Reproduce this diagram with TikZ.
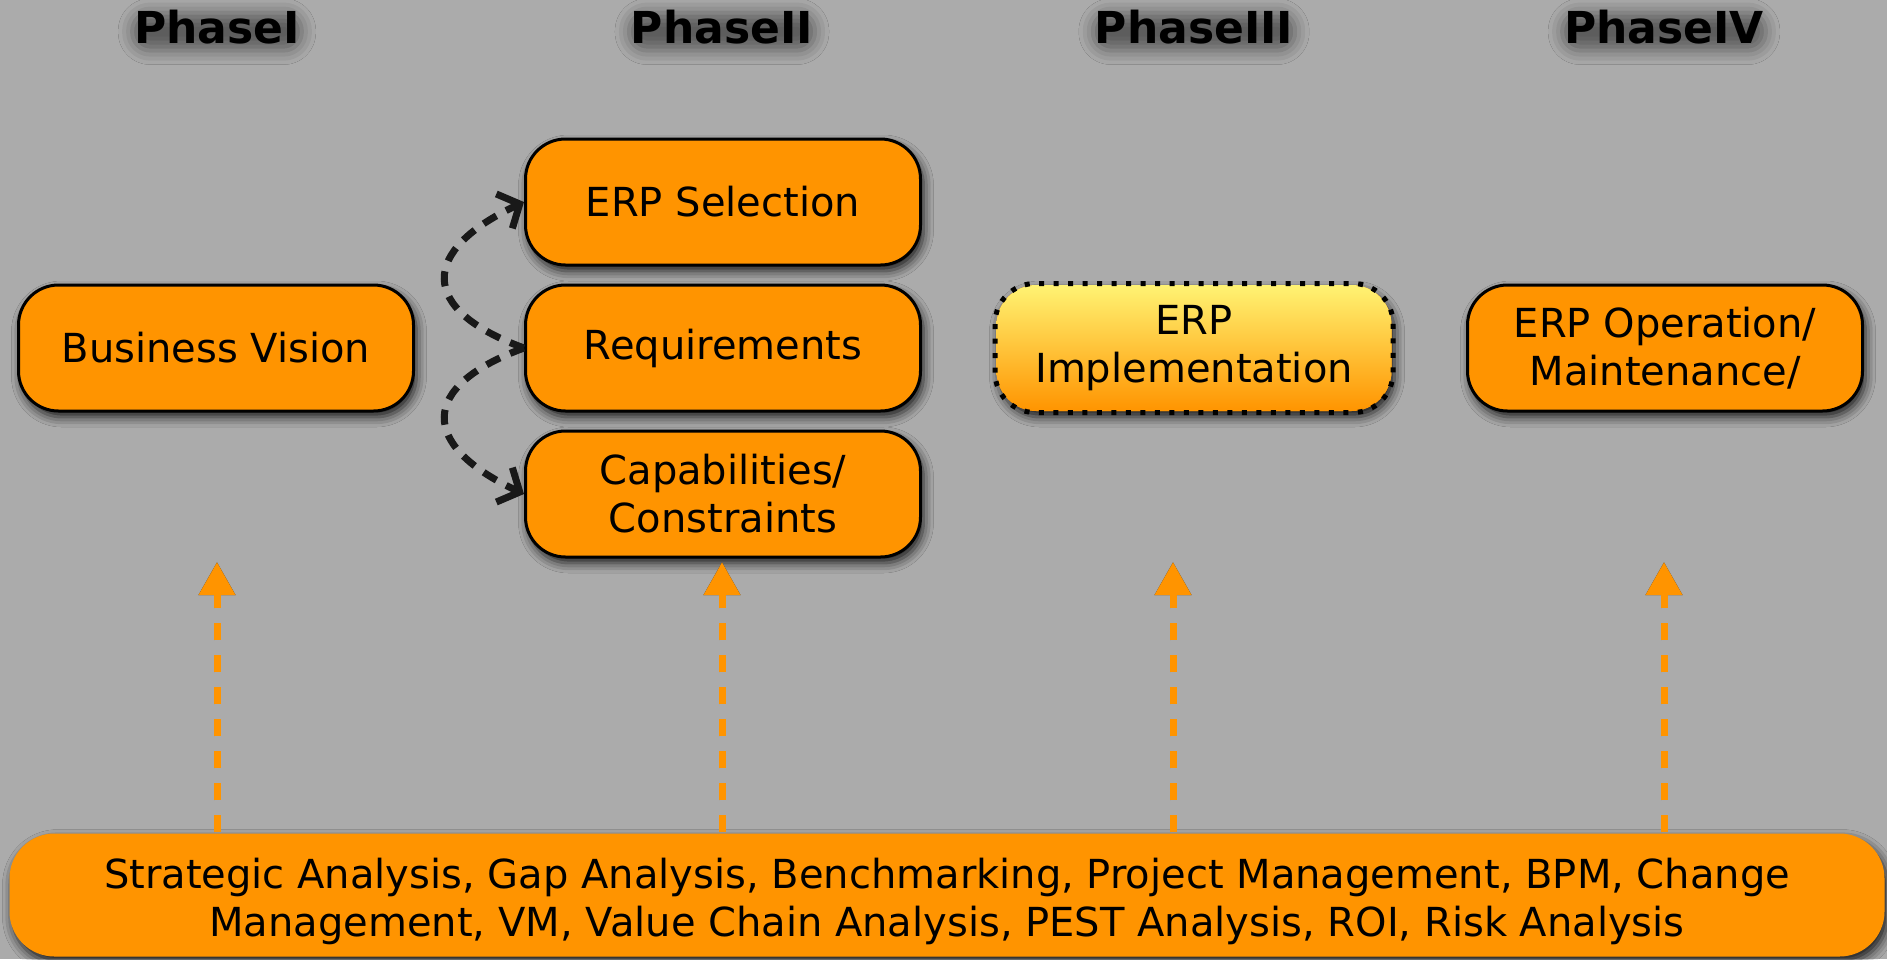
\documentclass[tikz,border=0pt]{standalone}
\usepackage{fontspec}
\setmainfont{DejaVu Sans}
\usepackage{tikz}
\usetikzlibrary{arrows.meta,shadows.blur,positioning}

\definecolor{phaseorange}{RGB}{255,148,0}
\definecolor{bggray}{RGB}{171,171,171}
\definecolor{implyellow}{RGB}{255,243,115}

\begin{document}
\begin{tikzpicture}[
    x=1pt, y=1pt,
    node distance = 17pt,
    phase/.style = {font=\fontsize{44}{50}\selectfont\bfseries, anchor=base,
                 rounded corners=18pt, inner sep=2pt,
                 blur shadow={shadow xshift=0pt, shadow yshift=-5pt,
                              shadow blur radius=14pt, shadow opacity=45}},
    box/.style = {rectangle, rounded corners=40pt, draw=black, line width=3pt,
                 fill=phaseorange, minimum width=395pt, minimum height=126pt,
                 align=center, font=\fontsize{40}{48}\selectfont,
                 blur shadow={shadow xshift=3pt, shadow yshift=-6pt,
                              shadow blur radius=10pt, shadow opacity=85}},
    loop arr/.style = {-{Straight Barb[length=17pt,width=38pt,line width=7pt]},
                 line width=7pt, dash pattern=on 15pt off 11pt, black!90},
    tool arr/.style = {-{Triangle[length=33pt,width=35pt]}, line width=7pt,
                 phaseorange, dash pattern=on 17pt off 15pt}
]

% Background
\useasboundingbox (0,0) rectangle (1887,-959);
\fill[bggray] (0,0) rectangle (1887,-959);

% Phase titles
\node[phase] (phase1) at (217,-43) {PhaseI};
\node[phase] (phase2) at (722,-43) {PhaseII};
\node[phase] (phase3) at (1194,-43) {PhaseIII};
\node[phase] (phase4) at (1664,-43) {PhaseIV};

% Phase boxes
\node[box] (vision) at (216,-348) {Business Vision};
\node[box] (req) at (723,-348) {Requirements};
\node[box, above=of req] (sel) {ERP Selection};
\node[box, below=of req] (cap) {Capabilities/\\Constraints};
\node[box, draw=none, top color=implyellow, bottom color=phaseorange]
    (impl) at (1194,-348) {ERP\\Implementation};
\draw[black, line width=5pt, dash pattern=on 5pt off 9.5pt, rounded corners=40pt]
    (impl.south west) rectangle (impl.north east);
\node[box] (ops) at (1665,-348) {ERP Operation/\\Maintenance/};

% Tools box
\node[box, draw=none, minimum width=1875pt, minimum height=123pt, rounded corners=45pt]
    (tools) at (947,-895) {\rule{0pt}{44pt}Strategic Analysis, Gap Analysis, Benchmarking, Project Management, BPM, Change\\
    Management, VM, Value Chain Analysis, PEST Analysis, ROI, Risk Analysis};

% Loops within phase II
\draw[loop arr] (req.west) to[out=160, in=205, looseness=2] (sel.west);
\draw[loop arr] (req.west) to[out=200, in=155, looseness=2] (cap.west);

% Tool arrows
\coordinate (up1) at (217,-562);
\coordinate (up2) at (722,-562);
\coordinate (up3) at (1173,-562);
\coordinate (up4) at (1664,-562);
\foreach \u in {up1,up2,up3,up4} {
  \draw[tool arr, black!85, yshift=-2pt] (tools.north -| \u) -- (\u);
  \draw[tool arr] (tools.north -| \u) -- (\u);
}

\end{tikzpicture}
\end{document}
